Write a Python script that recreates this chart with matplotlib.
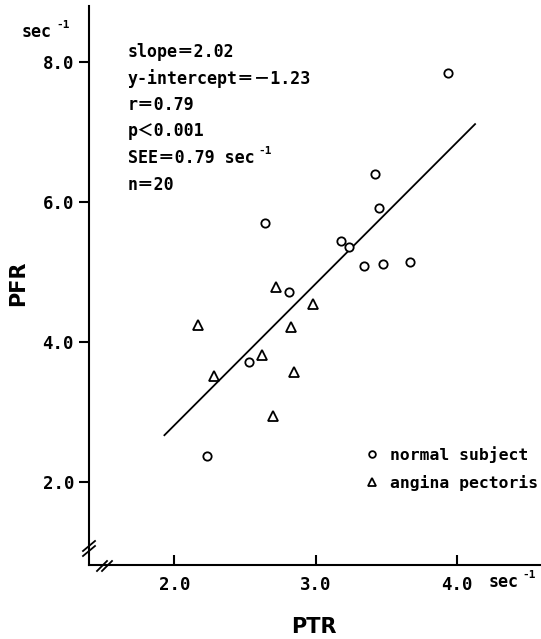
import matplotlib
matplotlib.use('Agg')
import matplotlib.pyplot as plt
import numpy as np
from matplotlib.lines import Line2D
from matplotlib.font_manager import FontProperties

# ---- data ----
normal_ptr = [3.94, 3.42, 3.45, 2.64, 3.18, 3.24, 3.34, 3.48, 3.67, 2.81, 2.53, 2.23]
normal_pfr = [7.84, 6.40, 5.92, 5.70, 5.45, 5.36, 5.09, 5.12, 5.14, 4.71, 3.71, 2.37]
angina_ptr = [2.72, 2.98, 2.17, 2.83, 2.62, 2.28, 2.85, 2.70]
angina_pfr = [4.79, 4.55, 4.24, 4.22, 3.81, 3.52, 3.57, 2.94]
slope = 2.02
intercept = -1.23
fit_range = [1.93, 4.13]
xticks = [2.0, 3.0, 4.0]
yticks = [2.0, 4.0, 6.0, 8.0]
stats_lines = ['slope＝2.02', 'y-intercept＝－1.23', 'r＝0.79', 'p＜0.001',
               'SEE＝0.79 sec', 'n＝20']
stats_sup = ['', '', '', '', '-1', '']
legend_labels = ['normal subject', 'angina pectoris']
unit_text = 'sec'
unit_sup = '-1'

MONO = ['DejaVu Sans Mono', 'Noto Sans CJK JP']
plt.rcParams['font.family'] = MONO

W, H = 541, 639
fig = plt.figure(figsize=(W / 100, H / 100), dpi=100)
renderer = fig.canvas.get_renderer()

def fx(px):
    return px / W

def fy(py):
    return 1 - py / H

# axes placement (pixels)
ax_l, ax_r, ax_t, ax_b = 89.3, 541, 6, 565
ax = fig.add_axes([fx(ax_l), fy(ax_b), fx(ax_r) - fx(ax_l), fy(ax_t) - fy(ax_b)])

# pixel calibration: x 2.0 -> 174.3, 141.2 px/unit ; y 8.0 -> 62, 70 px/unit
ax.set_xlim(2 + (ax_l - 174.3) / 141.2, 2 + (ax_r - 174.3) / 141.2)
ax.set_ylim(8 - (ax_b - 62) / 70, 8 - (ax_t - 62) / 70)

for s in ['top', 'right']:
    ax.spines[s].set_visible(False)
for s in ['left', 'bottom']:
    ax.spines[s].set_linewidth(1.5)
    ax.spines[s].set_color('black')

ax.set_xticks(xticks)
ax.set_xticklabels([f'{v:.1f}' for v in xticks])
ax.set_yticks(yticks)
ax.set_yticklabels([f'{v:.1f}' for v in yticks])
ax.tick_params(axis='x', direction='in', length=7, width=1.5, pad=8,
               labelsize=12.5)
ax.tick_params(axis='y', direction='out', length=7, width=1.5, pad=4,
               labelsize=12.5)
for lab in ax.get_xticklabels() + ax.get_yticklabels():
    lab.set_fontweight('bold')

# regression line
xs = np.array(fit_range)
ax.plot(xs, slope * xs + intercept, color='black', lw=1.3)

# points
ax.plot(normal_ptr, normal_pfr, linestyle='none', marker='o', markersize=6,
        markerfacecolor='white', markeredgecolor='black', markeredgewidth=1.3,
        label=legend_labels[0])
ax.plot(angina_ptr, angina_pfr, linestyle='none', marker='^', markersize=6.5,
        markerfacecolor='white', markeredgecolor='black', markeredgewidth=1.3,
        label=legend_labels[1])

leg = ax.legend(loc='upper left', bbox_to_anchor=(fx(357), fy(438)),
                bbox_transform=fig.transFigure, frameon=False,
                handlelength=0.8, handletextpad=0.7, labelspacing=0.7,
                borderpad=0, markerscale=0.8,
                prop=FontProperties(family=MONO, size=11.8, weight='bold'))

def sup_after(txt, s, size=8, dy=7, dx=4):
    if not s:
        return
    bb = txt.get_window_extent(renderer=renderer)
    fig.text(fx(bb.x1 + dx), (bb.y0 + bb.height / 2 + dy) / H, s,
             fontsize=size, fontweight='bold', ha='left', va='center')

# statistics text
for i, line in enumerate(stats_lines):
    t = fig.text(fx(128), fy(52 + i * 26.5), line, fontsize=12, ha='left',
                 va='center', color='black', fontweight='bold')
    sup_after(t, stats_sup[i])

# axis labels and units
fig.text(fx(18), fy(283), 'PFR', rotation=90, fontsize=15, ha='center',
         va='center', family=['DejaVu Sans'], fontweight='bold')
fig.text(fx(314), fy(627), 'PTR', fontsize=15, ha='center', va='center',
         family=['DejaVu Sans'], fontweight='bold')
t1 = fig.text(fx(22), fy(32), unit_text, fontsize=12, ha='left', va='center',
              fontweight='bold')
sup_after(t1, unit_sup)
t2 = fig.text(fx(489), fy(582), unit_text, fontsize=12, ha='left', va='center',
              fontweight='bold')
sup_after(t2, unit_sup, dx=3)

# axis break marks
def brk(x0, y0, x1, y1):
    fig.add_artist(Line2D([fx(x0), fx(x1)], [fy(y0), fy(y1)],
                          transform=fig.transFigure, color='black', lw=1.3))

# y-axis break
brk(83, 551, 95, 541)
brk(83, 556, 95, 546)
# x-axis break
brk(97, 571, 107, 561)
brk(102, 571, 112, 561)

fig.savefig('out.png', dpi=100)
